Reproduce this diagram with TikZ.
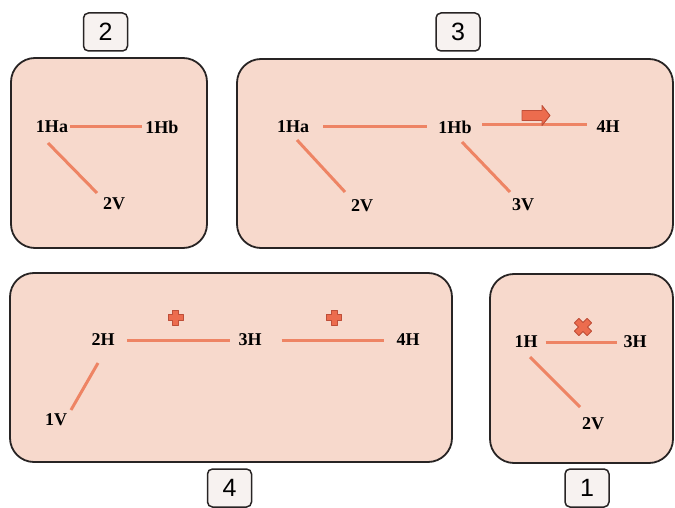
\documentclass[tikz,border=0pt]{standalone}
\usepackage{fontspec}
\setmainfont{Liberation Serif}
\newfontfamily\labfont{Liberation Sans}
\definecolor{panelfill}{RGB}{247,217,204}
\definecolor{panelline}{RGB}{40,36,36}
\definecolor{linkcol}{RGB}{238,132,100}
\definecolor{symfill}{RGB}{236,108,78}
\definecolor{symline}{RGB}{190,78,56}
\definecolor{labfill}{RGB}{247,242,240}
\tikzset{
  panel/.style={draw=panelline, line width=1.8pt, fill=panelfill, rounded corners=24pt},
  tag/.style={draw=panelline, line width=1.5pt, fill=labfill, rounded corners=5pt,
    minimum width=44pt, minimum height=38pt, inner sep=0pt,
    font=\labfont\fontsize{25}{25}\selectfont},
  lbl/.style={inner sep=0pt, font=\bfseries\fontsize{18}{18}\selectfont, text=black},
  link/.style={draw=linkcol, line width=3pt},
  sym/.style={fill=symfill, draw=symline, line width=0.9pt, line join=round}
}
\begin{document}
\begin{tikzpicture}[x=1pt,y=-1pt]
\useasboundingbox (0,0) rectangle (675,508);
% panels
\draw[panel] (11,58) rectangle (207,248);
\draw[panel] (237,59) rectangle (673,248);
\draw[panel] (10,273) rectangle (452,462);
\draw[panel] (490,274) rectangle (673,463);
% tags
\node[tag] (t2) at (105.5,32) {2};
\node[tag] (t3) at (458,32) {3};
\node[tag] (t4) at (229.5,488) {4};
\node[tag] (t1) at (587,488) {1};
% panel 2
\node[lbl] (p2a) at (52,127) {1Ha};
\node[lbl] (p2b) at (162,127) {1Hb};
\node[lbl] (p2v) at (114,204) {2V};
\draw[link, shorten <=2pt, shorten >=3.5pt] (p2a.east) -- (p2b.west);
\draw[link] ([shift={(-4,16)}]p2a.center) -- ([shift={(-17,-11)}]p2v.center);
% panel 3
\node[lbl] (p3a) at (293,127) {1Ha};
\node[lbl] (p3b) at (455,127) {1Hb};
\node[lbl] (p3h) at (608,127) {4H};
\node[lbl] (p3v2) at (362,206) {2V};
\node[lbl] (p3v3) at (523,205) {3V};
\draw[link, shorten <=14pt, shorten >=11.5pt] (p3a.east) -- (p3b.west);
\draw[link, shorten <=10.5pt, shorten >=9.5pt] ([yshift=2pt]p3b.east) -- ([yshift=2pt]p3h.west);
\draw[link] ([shift={(4,13)}]p3a.center) -- ([shift={(-17,-14)}]p3v2.center);
\draw[link] ([shift={(7,15)}]p3b.center) -- ([shift={(-13,-13)}]p3v3.center);
\coordinate (arr) at (536,115.5);
\draw[sym] ([shift={(-14,-5)}]arr) -- ([shift={(6,-5)}]arr) -- ([shift={(6,-10)}]arr)
  -- ([shift={(14,0)}]arr) -- ([shift={(6,10)}]arr) -- ([shift={(6,5)}]arr)
  -- ([shift={(-14,5)}]arr) -- cycle;
% panel 4
\node[lbl] (p4a) at (103,340) {2H};
\node[lbl] (p4b) at (250,340) {3H};
\node[lbl] (p4c) at (408,340) {4H};
\node[lbl] (p4v) at (56,420) {1V};
\draw[link, shorten <=12.5pt, shorten >=8.5pt] (p4a.east) -- (p4b.west);
\draw[link, shorten <=20pt, shorten >=12pt] (p4b.east) -- (p4c.west);
\draw[link] ([shift={(-5,23)}]p4a.center) -- ([shift={(15,-10)}]p4v.center);
\foreach \n/\cx in {plA/175.5, plB/334} {
  \coordinate (\n) at (\cx,317.5);
  \draw[sym] ([shift={(-3,-7.5)}]\n) -- ([shift={(3,-7.5)}]\n) -- ([shift={(3,-3)}]\n)
    -- ([shift={(7.5,-3)}]\n) -- ([shift={(7.5,3)}]\n) -- ([shift={(3,3)}]\n)
    -- ([shift={(3,7.5)}]\n) -- ([shift={(-3,7.5)}]\n) -- ([shift={(-3,3)}]\n)
    -- ([shift={(-7.5,3)}]\n) -- ([shift={(-7.5,-3)}]\n) -- ([shift={(-3,-3)}]\n) -- cycle;
}
% panel 1
\node[lbl] (p1a) at (526,342) {1H};
\node[lbl] (p1b) at (635,342) {3H};
\node[lbl] (p1v) at (593,424) {2V};
\draw[link, shorten <=8pt, shorten >=6pt] (p1a.east) -- (p1b.west);
\draw[link] ([shift={(4,15)}]p1a.center) -- ([shift={(-13,-17)}]p1v.center);
\coordinate (xm) at (583,327);
\draw[sym, rotate around={45:(xm)}] ([shift={(-3.2,-9)}]xm) -- ([shift={(3.2,-9)}]xm) -- ([shift={(3.2,-3.2)}]xm)
    -- ([shift={(9,-3.2)}]xm) -- ([shift={(9,3.2)}]xm) -- ([shift={(3.2,3.2)}]xm)
    -- ([shift={(3.2,9)}]xm) -- ([shift={(-3.2,9)}]xm) -- ([shift={(-3.2,3.2)}]xm)
    -- ([shift={(-9,3.2)}]xm) -- ([shift={(-9,-3.2)}]xm) -- ([shift={(-3.2,-3.2)}]xm) -- cycle;
\end{tikzpicture}
\end{document}
